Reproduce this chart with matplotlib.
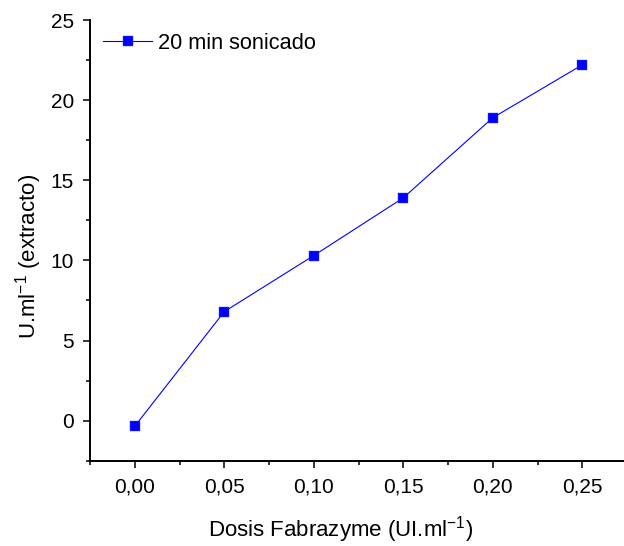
import matplotlib
matplotlib.use('Agg')
import matplotlib.pyplot as plt
from matplotlib.ticker import MultipleLocator, FuncFormatter

plt.rcParams['font.family'] = ['Liberation Sans', 'DejaVu Sans']
plt.rcParams['mathtext.fontset'] = 'custom'
plt.rcParams['mathtext.rm'] = 'Liberation Sans'

# Data
dosis = [0.00, 0.05, 0.10, 0.15, 0.20, 0.25]
actividad = [-0.35, 6.8, 10.3, 13.9, 18.9, 22.2]
serie_label = '20 min sonicado'

fig = plt.figure(figsize=(6.24, 5.46), dpi=100)
# axes box in pixels: left 90, right 627 (cut by figure edge), top 20, bottom 460.7
ax = fig.add_axes([90 / 624, 1 - 460.7 / 546, 537 / 624, (460.7 - 20) / 546])

ax.plot(dosis, actividad, color='#0000FF', linewidth=0.8,
        marker='s', markersize=7.7, markeredgewidth=0.3,
        markeredgecolor='#4040FF', label=serie_label)

ax.set_xlim(-0.025, 0.275)
ax.set_ylim(-2.5, 25)

for side in ('top', 'right'):
    ax.spines[side].set_visible(False)
for side in ('left', 'bottom'):
    ax.spines[side].set_linewidth(1.4)

ax.xaxis.set_major_locator(MultipleLocator(0.05))
ax.xaxis.set_minor_locator(MultipleLocator(0.025))
ax.yaxis.set_major_locator(MultipleLocator(5))
ax.yaxis.set_minor_locator(MultipleLocator(2.5))
ax.xaxis.set_major_formatter(FuncFormatter(lambda v, _: f'{v:.2f}'.replace('.', ',')))
ax.yaxis.set_major_formatter(FuncFormatter(lambda v, _: f'{v:.0f}'))

ax.tick_params(which='major', direction='out', length=5, width=1.1, labelsize=15)
ax.tick_params(axis='x', which='major', pad=7)
ax.tick_params(axis='y', which='major', pad=6.5)
ax.tick_params(which='minor', direction='out', length=3, width=1.1)

ax.set_xlabel('Dosis Fabrazyme (UI.ml$^{\\mathrm{-1}}$)', fontsize=16,
              labelpad=13, x=0.467)
ax.set_ylabel('U.ml$^{\\mathrm{-1}}$ (extracto)', fontsize=16,
              labelpad=5, y=0.4645)

ax.legend(loc='upper left', bbox_to_anchor=(13 / 537, 1 - 13 / 440.7),
          frameon=False, fontsize=15.7, handlelength=2.25, handletextpad=0.25,
          borderpad=0, borderaxespad=0)

fig.savefig('out.png', dpi=100)
